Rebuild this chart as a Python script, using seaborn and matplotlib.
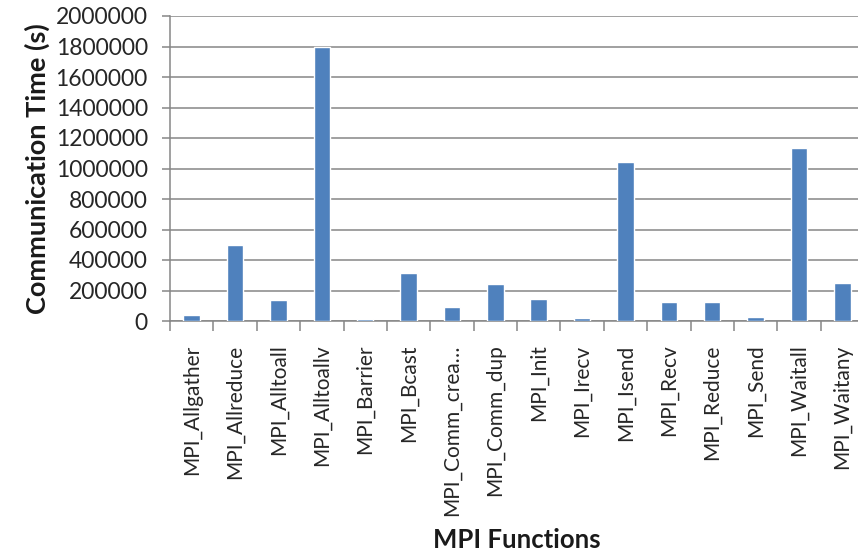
import matplotlib
matplotlib.use("Agg")
import matplotlib.pyplot as plt
import seaborn as sns
import pandas as pd
import numpy as np

functions = [
    "MPI_Allgather", "MPI_Allreduce", "MPI_Alltoall", "MPI_Alltoallv",
    "MPI_Barrier", "MPI_Bcast", "MPI_Comm_crea…", "MPI_Comm_dup",
    "MPI_Init", "MPI_Irecv", "MPI_Isend", "MPI_Recv",
    "MPI_Reduce", "MPI_Send", "MPI_Waitall", "MPI_Waitany",
]
comm_time = [
    37000, 500000, 140000, 1800000,
    15000, 315000, 92000, 244000,
    146000, 20000, 1040000, 122000,
    122000, 28000, 1135000, 251000,
]
y_ticks = [0, 200000, 400000, 600000, 800000, 1000000,
           1200000, 1400000, 1600000, 1800000, 2000000]

df = pd.DataFrame({"function": functions, "time": comm_time})

sns.set_style("white")
plt.rcParams["font.family"] = ["Lato", "DejaVu Sans"]

W, H = 858, 552
fig = plt.figure(figsize=(W / 100, H / 100), dpi=100)
ax = fig.add_axes([170 / W, 1 - 321 / H, (864 - 170) / W, (321 - 16) / H])

sns.barplot(data=df, x="function", y="time", order=functions,
            color="#4F81BD", saturation=1, width=0.38, ax=ax, zorder=3)

grid_c = "#868686"
ax.set_ylim(0, 2000000)
ax.set_xlim(-0.5, len(functions) - 0.5)
ax.set_yticks(y_ticks)
ax.set_yticklabels([str(v) for v in y_ticks], fontsize=16.5, color="#262626")
ax.yaxis.grid(True, color=grid_c, linewidth=1.1, zorder=0)
ax.set_axisbelow(True)

for side in ("top", "right"):
    ax.spines[side].set_visible(False)
for side in ("left", "bottom"):
    ax.spines[side].set_color(grid_c)
    ax.spines[side].set_linewidth(1.1)

ax.tick_params(axis="y", which="major", length=6, width=1.1, color=grid_c,
               pad=10, left=True)
# category labels centred on bars, tick marks between categories
ax.set_xticks(range(len(functions)))
ax.set_xticklabels(functions, rotation=90, fontsize=15, color="#262626",
                   va="top", ha="center")
ax.tick_params(axis="x", which="major", length=0, pad=17)
ax.set_xticks(np.arange(len(functions) + 1) - 0.5, minor=True)
ax.tick_params(axis="x", which="minor", length=7, width=1.1, color=grid_c,
               bottom=True)

ax.set_xlabel("MPI Functions", fontsize=18.5, fontweight="bold",
              color="#1a1a1a")
ax.xaxis.set_label_coords(0.5, -0.68)
ax.set_ylabel("Communication Time (s)", fontsize=19.5, fontweight="bold",
              color="#1a1a1a", labelpad=4)

fig.savefig("out.png", dpi=100)
